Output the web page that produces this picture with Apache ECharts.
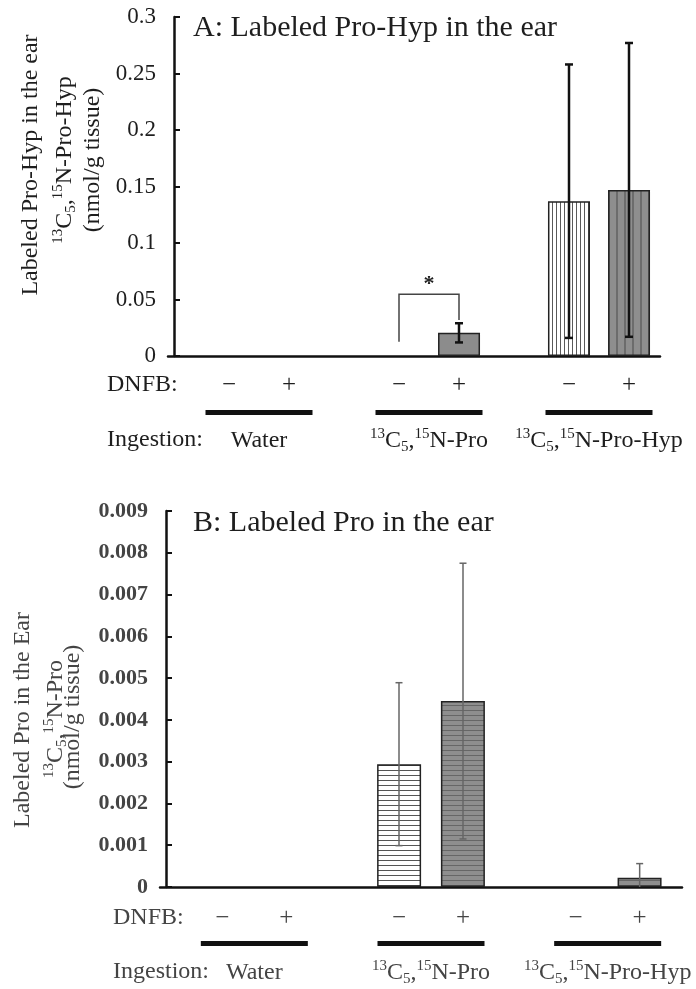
<!DOCTYPE html>
<html>
<head>
<meta charset="utf-8">
<script src="https://cdn.jsdelivr.net/npm/echarts@6/dist/echarts.min.js"></script>
<style>
  html, body { margin: 0; padding: 0; background: #fff; }
  #chart { width: 696px; height: 989px; }
</style>
</head>
<body>
<div id="chart"></div>
<script>
// categories (ingestion groups) and DNFB treatment
const groups = ['Water', '13C5,15N-Pro', '13C5,15N-Pro-Hyp'];
const dnfbSigns = ['−', '+'];

// A: labeled Pro-Hyp in the ear (nmol/g tissue), mean and SD
const proHypMinus = [0, 0, 0.137];
const proHypMinusErr = [0, 0, 0.121];
const proHypPlus = [0, 0.0205, 0.147];
const proHypPlusErr = [0, 0.0085, 0.13];
// significance bracket: group, left foot, top, right foot
const sigBracket = [1, 0.0127, 0.0546, 0.0319];

// B: labeled Pro in the ear (nmol/g tissue)
const proMinus = [0, 0.00294, 0];
const proMinusErr = [0, 0.00195, 0];
const proPlus = [0, 0.00445, 0.00022];
const proPlusErr = [0, 0.0033, 0.00034];

const FONT = 'Liberation Serif';

function stripes(bg, fg, dir, step, lw) {
  const c = document.createElement('canvas');
  c.width = step;
  c.height = step;
  const ctx = c.getContext('2d');
  ctx.fillStyle = bg;
  ctx.fillRect(0, 0, step, step);
  ctx.fillStyle = fg;
  if (dir === 'v') ctx.fillRect(0, 0, lw, step);
  else ctx.fillRect(0, 0, step, lw);
  return { image: c, repeat: 'repeat' };
}

const fills = {
  none: '#ffffff',
  gray: '#8c8c8c',
  vWhite: stripes('#ffffff', '#5a5a5a', 'v', 4, 1),
  vGray: stripes('#8e8e8e', '#6c6c6c', 'v', 8, 2),
  hWhite: stripes('#ffffff', '#555555', 'h', 5, 1),
  hGray: stripes('#8e8e8e', '#666666', 'h', 5, 1),
};
const fillA = [['none', 'none', 'vWhite'], ['none', 'gray', 'vGray']];
const fillB = [['none', 'hWhite', 'none'], ['none', 'hGray', 'hGray']];

function barData(vals, keys) {
  return vals.map((v, i) => ({
    value: v,
    itemStyle: { color: fills[keys[i]], borderColor: '#222', borderWidth: v ? 1.5 : 0 },
  }));
}

// "13C5,15N-Pro" -> rich text with super/subscripts
function isoLabel(s) {
  const m = s.match(/^(\d+)C(\d),(\d+)N(.*)$/);
  if (!m) return `{t|${s}}`;
  return `{sup|${m[1]}}{t|C}{sub|${m[2]}}{t|,}{sup|${m[3]}}{t|N${m[4]}}`;
}
function isoRich(size, color, weight) {
  return {
    t: { fontFamily: FONT, fontSize: size, color, fontWeight: weight, lineHeight: size + 4 },
    sup: { fontFamily: FONT, fontSize: Math.round(size * 0.62), color, fontWeight: weight, lineHeight: 13, verticalAlign: 'top' },
    sub: { fontFamily: FONT, fontSize: Math.round(size * 0.62), color, fontWeight: weight, lineHeight: 8, verticalAlign: 'bottom' },
  };
}

function errorSeries(xi, yi, lists, offsets, st) {
  const data = [];
  lists.forEach((pair, s) => {
    pair[0].forEach((v, g) => data.push([g, v, pair[1][g], s]));
  });
  return {
    type: 'custom',
    xAxisIndex: xi,
    yAxisIndex: yi,
    data,
    z: 5,
    renderItem(params, api) {
      const g = api.value(0), v = api.value(1), e = api.value(2), s = api.value(3);
      if (!e) return null;
      const cx = api.coord([g, 0])[0] + offsets[s];
      const top = api.coord([g, v + e])[1];
      const low = Math.max(0, v - e);
      const bot = api.coord([g, low])[1];
      const style = { stroke: st.color, lineWidth: st.width };
      const children = [
        { type: 'line', shape: { x1: cx, y1: top, x2: cx, y2: bot }, style },
        { type: 'line', shape: { x1: cx - st.cap, y1: top, x2: cx + st.cap, y2: top }, style },
      ];
      if (low > 0) {
        children.push({ type: 'line', shape: { x1: cx - st.cap, y1: bot, x2: cx + st.cap, y2: bot }, style });
      }
      return { type: 'group', children };
    },
  };
}

function labelAxes(grid, color, weight, margins, signW, ulW) {
  const base = {
    type: 'category', gridIndex: grid, position: 'bottom', data: groups,
    axisLine: { show: false }, axisTick: { show: false }, splitLine: { show: false },
  };
  return [
    Object.assign({}, base, {
      axisLabel: {
        margin: margins[0], interval: 0,
        formatter: () => `{m|${dnfbSigns[0]}}{p|${dnfbSigns[1]}}`,
        rich: {
          m: { width: signW, align: 'center', fontFamily: FONT, fontSize: 25, color, lineHeight: 26 },
          p: { width: signW, align: 'center', fontFamily: FONT, fontSize: 25, color, lineHeight: 26 },
        },
      },
    }),
    Object.assign({}, base, {
      axisLabel: {
        margin: margins[1], interval: 0,
        formatter: () => '{u| }',
        rich: { u: { width: ulW, height: 5, lineHeight: 5, fontSize: 4, backgroundColor: '#111' } },
      },
    }),
    Object.assign({}, base, {
      axisLabel: {
        margin: margins[2], interval: 0,
        formatter: (v) => isoLabel(v),
        rich: isoRich(24, color, weight),
      },
    }),
  ];
}

function lineAxis(grid) {
  return {
    type: 'value', gridIndex: grid, min: 0, max: 1,
    axisLine: { show: true, lineStyle: { color: '#111', width: 2.5 } },
    axisTick: { show: false }, axisLabel: { show: false }, splitLine: { show: false },
  };
}

function text(x, y, str, size, color, extra) {
  return Object.assign({
    type: 'text', x, y,
    style: {
      text: str, fontFamily: FONT, fontSize: size, fill: color,
      textAlign: 'left', textVerticalAlign: 'middle', align: 'left', verticalAlign: 'middle',
    },
  }, extra || {});
}

function yName(x, y, str, size, color, weight) {
  return {
    type: 'text', x, y, rotation: Math.PI / 2,
    style: {
      text: str, rich: isoRich(size, color, weight), fontFamily: FONT, fontSize: size, fill: color,
      textAlign: 'center', textVerticalAlign: 'middle', align: 'center', verticalAlign: 'middle',
    },
  };
}

const offA = [-30, 30];
const offB = [-32, 32];
const colA = '#1e1e1e';
const colB = '#444';

const chart = echarts.init(document.getElementById('chart'));
const option = {
  animation: false,
  backgroundColor: '#fff',
  grid: [
    { left: 174, top: 17, width: 510, height: 339 },
    { left: 168, top: 17, width: 492, height: 339 },
    { left: 166, top: 511, width: 536, height: 376 },
    { left: 160, top: 511, width: 522, height: 376 },
  ],
  xAxis: [
    ...labelAxes(0, colA, 'normal', [16, 54, 71], 60, 107),
    lineAxis(1),
    ...labelAxes(2, colB, 'normal', [18, 54, 72], 64, 107),
    lineAxis(3),
  ],
  yAxis: [
    {
      type: 'value', gridIndex: 0, min: 0, max: 0.3, interval: 0.05,
      axisLine: { show: true, lineStyle: { color: '#111', width: 2.5 } },
      axisTick: { show: true, inside: true, length: 6, lineStyle: { color: '#111', width: 2 } },
      axisLabel: {
        margin: 18, fontFamily: FONT, fontSize: 23, color: colA,
        formatter: (v) => String(+v.toFixed(3)),
      },
      splitLine: { show: false },
    },
    { type: 'value', gridIndex: 1, min: 0, max: 1, show: false },
    {
      type: 'value', gridIndex: 2, min: 0, max: 0.009, interval: 0.001,
      axisLine: { show: true, lineStyle: { color: '#111', width: 2.5 } },
      axisTick: { show: true, inside: true, length: 6, lineStyle: { color: '#111', width: 2 } },
      axisLabel: {
        margin: 18, fontFamily: FONT, fontSize: 22, color: colB, fontWeight: 'bold',
        formatter: (v) => String(+v.toFixed(4)),
      },
      splitLine: { show: false },
    },
    { type: 'value', gridIndex: 3, min: 0, max: 1, show: false },
  ],
  graphic: [
    text(193, 28, 'A: Labeled Pro-Hyp in the ear', 30, colA),
    text(193, 523, 'B: Labeled Pro in the ear', 30, colA),
    text(107, 385, 'DNFB:', 24, colA),
    text(107, 440, 'Ingestion:', 24, colA),
    text(113, 918, 'DNFB:', 24, colB),
    text(113, 972, 'Ingestion:', 24, colB),
    yName(31, 165, '{t|Labeled Pro-Hyp in the ear}', 24, colA, 'normal'),
    yName(65, 160, isoLabel('13C5,15N-Pro-Hyp'), 24, colA, 'normal'),
    yName(93, 160, '{t|(nmol/g tissue)}', 24, colA, 'normal'),
    yName(23, 720, '{t|Labeled Pro in the Ear}', 24, colB, 'normal'),
    yName(56, 719, isoLabel('13C5,15N-Pro'), 24, colB, 'normal'),
    yName(73, 717, '{t|(nmol/g tissue)}', 24, colB, 'normal'),
  ],
  series: [
    {
      type: 'bar', xAxisIndex: 0, yAxisIndex: 0, barWidth: 42, barGap: '43%',
      data: barData(proHypMinus, fillA[0]),
    },
    {
      type: 'bar', xAxisIndex: 0, yAxisIndex: 0, barWidth: 42, barGap: '43%',
      data: barData(proHypPlus, fillA[1]),
    },
    errorSeries(0, 0, [[proHypMinus, proHypMinusErr], [proHypPlus, proHypPlusErr]], offA,
      { color: '#111', width: 2.5, cap: 4 }),
    {
      // significance bracket with asterisk
      type: 'custom', xAxisIndex: 0, yAxisIndex: 0, z: 6,
      data: [sigBracket],
      renderItem(params, api) {
        const cx = api.coord([api.value(0), 0])[0];
        const x1 = cx + offA[0], x2 = cx + offA[1];
        const yl = api.coord([0, api.value(1)])[1];
        const yt = api.coord([0, api.value(2)])[1];
        const yr = api.coord([0, api.value(3)])[1];
        return {
          type: 'group',
          children: [
            {
              type: 'polyline',
              shape: { points: [[x1, yl], [x1, yt], [x2, yt], [x2, yr]] },
              style: { stroke: '#444', lineWidth: 1.5, fill: null },
            },
            {
              type: 'text', x: (x1 + x2) / 2, y: yt - 10,
              style: {
                text: '*', fontFamily: FONT, fontSize: 22, fontWeight: 'bold', fill: '#222',
                textAlign: 'center', textVerticalAlign: 'middle', align: 'center', verticalAlign: 'middle',
              },
            },
          ],
        };
      },
    },
    {
      type: 'bar', xAxisIndex: 4, yAxisIndex: 2, barWidth: 44, barGap: '45%',
      data: barData(proMinus, fillB[0]),
    },
    {
      type: 'bar', xAxisIndex: 4, yAxisIndex: 2, barWidth: 44, barGap: '45%',
      data: barData(proPlus, fillB[1]),
    },
    errorSeries(4, 2, [[proMinus, proMinusErr], [proPlus, proPlusErr]], offB,
      { color: '#666', width: 1.5, cap: 3.5 }),
  ],
};
chart.setOption(option);
</script>
</body>
</html>
